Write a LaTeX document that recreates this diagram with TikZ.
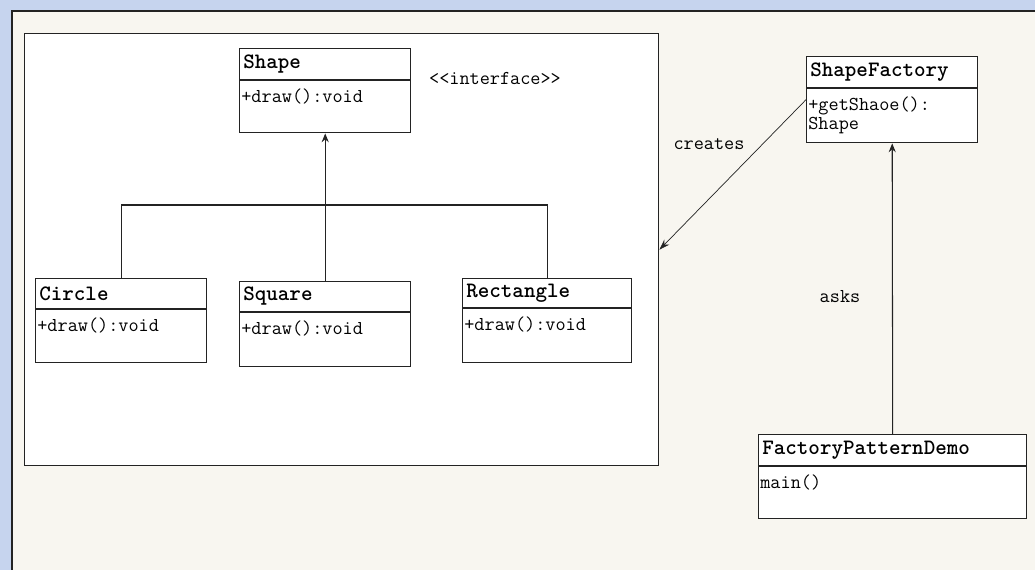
\documentclass[tikz,border=0pt]{standalone}
\usetikzlibrary{arrows.meta}

\definecolor{winblue}{RGB}{198,212,238}
\definecolor{paper}{RGB}{248,246,240}
\definecolor{linegray}{RGB}{35,35,35}
\newcommand{\pxu}{0.02cm}

\tikzset{
    cls/.style={draw=linegray, fill=white, line width=0.8pt, anchor=north west, inner sep=0pt},
    clstitle/.style={anchor=west, inner sep=0pt, font=\fontsize{12.5}{14}\selectfont\ttfamily\bfseries},
    clsbody/.style={anchor=north west, inner sep=0pt, align=left, font=\fontsize{11.2}{11.3}\selectfont\ttfamily},
    lbl/.style={inner sep=0pt, font=\fontsize{11.2}{12}\selectfont\ttfamily},
    link/.style={linegray, line width=0.6pt},
}

\begin{document}
\begin{tikzpicture}[x=\pxu, y=-\pxu]
\useasboundingbox (0,0) rectangle (1035,570);

% 背景(ウィンドウ)
\fill[winblue] (0,0) rectangle (1035,570);
\fill[paper] (12,11) rectangle (1035,570);
\draw[linegray, line width=0.8pt] (12,570) -- (12,11) -- (1035,11);

% パッケージ枠
\node[cls, minimum width=634*\pxu, minimum height=432*\pxu] (pkg) at (24,33) {};

% クラス(名前/x/y/幅/高さ/区切り/クラス名/メソッド)
\foreach \id/\x/\y/\w/\h/\d/\title/\body in {
    shape/239/48/171/84/32/{Shape}/{+draw():void},
    circle/35/278/171/84/31/{Circle}/{+draw():void},
    square/239/281/171/85/31/{Square}/{+draw():void},
    rectangle/462/278/169/84/30/{Rectangle}/{+draw():void},
    factory/806/56/171/86/32/{ShapeFactory}/{+getShaoe():\\Shape},
    demo/758/434/268/84/32/{FactoryPatternDemo}/{main()}} {
    \node[cls, minimum width=\w*\pxu, minimum height=\h*\pxu] (\id) at (\x,\y) {};
    \node[clstitle] (\id-title) at ([shift={(4,\d/2)}]\id.north west) {\title};
    \draw[linegray, line width=0.8pt] ([yshift=-\d*\pxu]\id.north west) -- ([yshift=-\d*\pxu]\id.north east);
    \node[clsbody] (\id-body) at ([shift={(2,\d+8)}]\id.north west) {\body};
}

% 継承
\draw[link] (circle.north) -- ++(0,-73) -| (rectangle.north);
\draw[link, -{Stealth[length=5pt, width=4pt]}] (square.north) -- (shape.south);

% 依存
\draw[link, line width=0.4pt, -{Stealth[length=6pt, width=4pt]}] (factory.west) -- (pkg.east);
\draw[link, -{Stealth[length=5pt, width=4pt]}] (demo.north) -- (factory.south);

% ラベル
\node[lbl] (stereo) at (495,78) {<{}<interface>{}>};
\node[lbl] (creates) at (709,144) {creates};
\node[lbl] (asks) at (840,297) {asks};
\end{tikzpicture}
\end{document}
